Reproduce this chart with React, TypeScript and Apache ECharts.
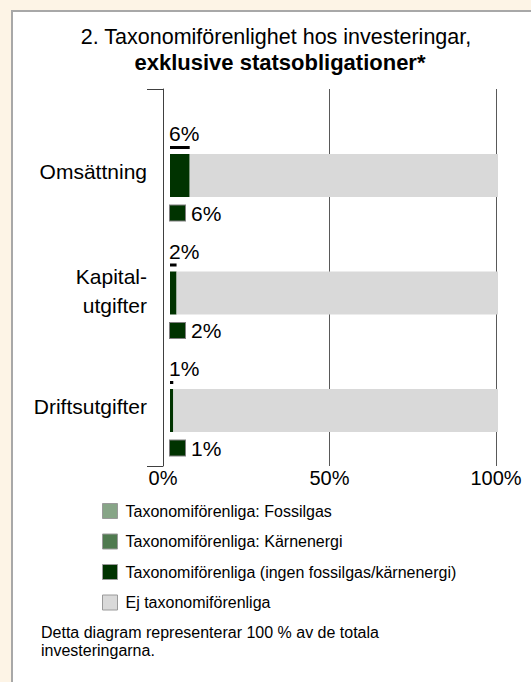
import React, { useEffect, useRef } from "react";
import * as echarts from "echarts";

const categories = ["Omsättning", "Kapital-\nutgifter", "Driftsutgifter"];
const seriesNames = [
  "Taxonomiförenliga: Fossilgas",
  "Taxonomiförenliga: Kärnenergi",
  "Taxonomiförenliga (ingen fossilgas/kärnenergi)",
  "Ej taxonomiförenliga",
];
const fossilgas = [0, 0, 0];
const karnenergi = [0, 0, 0];
const ingenFossil = [6, 2, 1];
const ejForenliga = [94, 98, 99];
const totalForenliga = [6, 2, 1];
const titleLine1 = "2. Taxonomiförenlighet hos investeringar,";
const titleLine2 = "exklusive statsobligationer*";
const footnote = "Detta diagram representerar 100 % av de totala\ninvesteringarna.";

const FONT = "'Liberation Sans', Arial, sans-serif";
const colors = ["#87a587", "#4f7a4f", "#003300", "#d9d9d9"];

export default function App() {
  const ref = useRef<HTMLDivElement>(null);
  useEffect(() => {
    if (!ref.current) return;
    const chart = echarts.init(ref.current, undefined, { renderer: "svg" });
    const barBase = (i: number, data: number[]) => ({
      name: seriesNames[i],
      type: "bar",
      xAxisIndex: 1,
      yAxisIndex: 1,
      stack: "a",
      barWidth: 43,
      data,
      itemStyle: { color: colors[i] },
    });
    chart.setOption({
      animation: false,
      textStyle: { fontFamily: FONT },
      grid: [
        { left: 163, top: 89, width: 333, height: 377 },
        { left: 170, top: 116.75, width: 328, height: 352.5 },
        { left: 170, top: 88.75, width: 328, height: 352.5 },
      ],
      xAxis: [
        {
          gridIndex: 0,
          type: "value",
          min: 0,
          max: 100,
          interval: 50,
          axisLine: { show: false },
          axisTick: { show: false },
          axisLabel: { formatter: "{value}%", fontSize: 20, color: "#000", margin: 2, fontFamily: FONT },
          splitLine: { show: true, lineStyle: { color: "#595959", width: 1 } },
        },
        { gridIndex: 1, type: "value", min: 0, max: 100, show: false },
        { gridIndex: 2, type: "value", min: 0, max: 100, show: false },
      ],
      yAxis: [
        {
          gridIndex: 0,
          type: "value",
          min: 0,
          max: 1,
          interval: 1,
          axisLine: { show: true, lineStyle: { color: "#404040", width: 1 } },
          axisTick: { show: true, length: 16, lineStyle: { color: "#404040", width: 1 } },
          axisLabel: { show: false },
          splitLine: { show: false },
        },
        {
          gridIndex: 1,
          type: "category",
          inverse: true,
          data: categories,
          axisLine: { show: false },
          axisTick: { show: false },
          splitLine: { show: false },
          axisLabel: {
            margin: 23,
            formatter: (v: string) => {
              const lines = v.split("\n");
              return lines
                .map((l, i) => (i === lines.length - 1 ? `{b|${l}}` : `{a|${l}}`))
                .join("\n");
            },
            rich: {
              a: { fontSize: 21, color: "#000", fontFamily: FONT, lineHeight: 33, align: "right" },
              b: { fontSize: 21, color: "#000", fontFamily: FONT, lineHeight: 33, align: "right", padding: [0, 0, 9, 0] },
            },
          },
        },
        { gridIndex: 2, type: "category", inverse: true, data: categories, show: false },
      ],
      legend: {
        data: seriesNames,
        orient: "vertical",
        left: 102,
        top: 503,
        padding: 0,
        itemWidth: 15,
        itemHeight: 15,
        itemGap: 14.5,
        icon: "rect",
        selectedMode: false,
        itemStyle: { borderColor: "#9a9a9a", borderWidth: 1 },
        textStyle: { fontSize: 16, color: "#000", fontFamily: FONT, padding: [0, 0, 0, 3] },
      },
      graphic: [
        {
          type: "text",
          x: 276,
          y: 37,
          style: { text: titleLine1, fontSize: 21.5, fontFamily: FONT, fill: "#000", align: "center", verticalAlign: "middle" },
        },
        {
          type: "text",
          x: 280,
          y: 62,
          style: { text: titleLine2, fontSize: 22, fontWeight: "bold", fontFamily: FONT, fill: "#000", align: "center", verticalAlign: "middle" },
        },
        {
          type: "text",
          x: 41,
          y: 623,
          style: { text: footnote, fontSize: 16, lineHeight: 18, fontFamily: FONT, fill: "#000", align: "left", verticalAlign: "top" },
        },
      ],
      series: [
        barBase(0, fossilgas),
        barBase(1, karnenergi),
        {
          ...barBase(2, ingenFossil),
          label: {
            show: true,
            position: [0, 48],
            formatter: (p: any) => `{sq|}{t|${p.value}%}`,
            rich: {
              sq: { width: 15, height: 15, backgroundColor: colors[2], borderColor: "#7f7f7f", borderWidth: 1, verticalAlign: "middle" },
              t: { fontSize: 21, color: "#000", fontFamily: FONT, padding: [0, 0, 0, 6], verticalAlign: "middle", lineHeight: 22 },
            },
          },
        },
        barBase(3, ejForenliga),
        {
          name: "total",
          type: "bar",
          xAxisIndex: 2,
          yAxisIndex: 2,
          barWidth: 3,
          data: totalForenliga,
          itemStyle: { color: "#000" },
          label: {
            show: true,
            position: [-1, -2],
            align: "left",
            verticalAlign: "bottom",
            formatter: "{c}%",
            fontSize: 21,
            color: "#000",
            fontFamily: FONT,
          },
        },
      ],
    });
    return () => chart.dispose();
  }, []);

  return (
    <div style={{ position: "fixed", left: 0, top: 0, width: 531, height: 682, background: "#fdf4e6", overflow: "hidden" }}>
      <div
        style={{
          position: "absolute",
          left: 11,
          top: 10,
          width: 540,
          height: 700,
          background: "#fff",
          borderLeft: "2px solid #a8a8a8",
          borderTop: "2px solid #a8a8a8",
        }}
      />
      <div ref={ref} style={{ position: "absolute", left: 0, top: 0, width: 531, height: 682 }} />
    </div>
  );
}
